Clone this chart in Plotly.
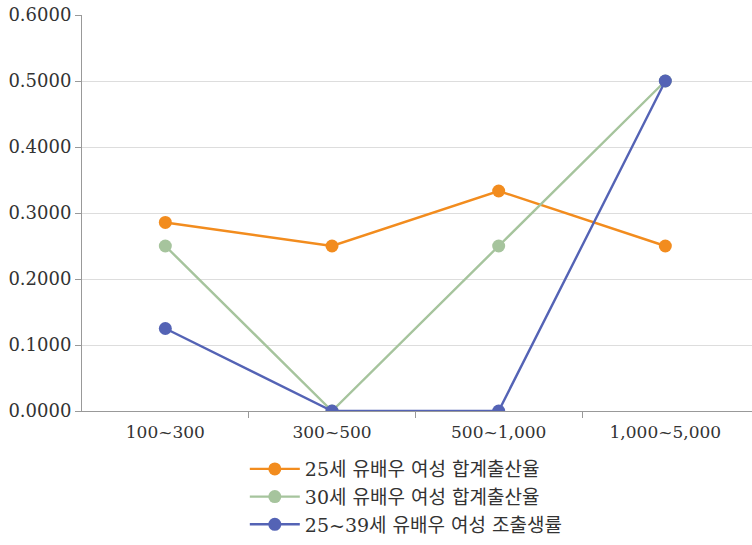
import plotly.graph_objects as go

categories = ["100~300", "300~500", "500~1,000", "1,000~5,000"]
tfr_25 = [0.2857, 0.25, 0.3333, 0.25]
tfr_30 = [0.25, 0.0, 0.25, 0.5]
cbr_25_39 = [0.125, 0.0, 0.0, 0.5]
series_names = [
    "25세 유배우 여성 합계출산율",
    "30세 유배우 여성 합계출산율",
    "25~39세 유배우 여성 조출생률",
]
y_ticks = [0.0, 0.1, 0.2, 0.3, 0.4, 0.5, 0.6]

colors = ["#F28C1E", "#A6C49D", "#5463B5"]
serif = "DejaVu Serif"
legend_font = "DejaVu Serif, Noto Sans CJK KR"

fig = go.Figure()
for name, vals, col in zip(series_names, [tfr_25, tfr_30, cbr_25_39], colors):
    fig.add_trace(go.Scatter(
        x=list(range(len(categories))), y=vals, name=name,
        mode="lines+markers",
        line=dict(color=col, width=2.4),
        marker=dict(color=col, size=13),
    ))

fig.update_layout(
    width=752, height=545,
    margin=dict(l=82, r=0, t=15, b=134),
    plot_bgcolor="white", paper_bgcolor="white",
    font=dict(family=serif, size=18, color="#333333"),
    showlegend=True,
    legend=dict(
        x=0.243, y=-0.336, xanchor="left", yanchor="bottom",
        font=dict(family=legend_font, size=19, color="#333333"),
        tracegroupgap=0, itemwidth=50,
        bgcolor="rgba(0,0,0,0)",
    ),
)
fig.update_xaxes(
    range=[-0.5, 3.52],
    tickmode="array", tickvals=list(range(len(categories))), ticktext=categories,
    showgrid=False, showline=True, linecolor="#999999", linewidth=1,
    ticks="", zeroline=False, ticklabelstandoff=6,
    tickfont=dict(family=serif, size=17, color="#333333"),
)
# category separators drawn as minor ticks
fig.update_xaxes(minor=dict(tickmode="array", tickvals=[0.5, 1.5, 2.5],
                            ticks="outside", ticklen=6, tickcolor="#999999", showgrid=False))
fig.update_yaxes(
    range=[0, 0.6],
    tickmode="array", tickvals=y_ticks, ticktext=[f"{v:.4f}" for v in y_ticks],
    showgrid=True, gridcolor="#DDDDDD", gridwidth=1,
    showline=True, linecolor="#999999", linewidth=1,
    ticks="outside", ticklen=6, tickcolor="#999999",
    zeroline=False,
    tickfont=dict(family=serif, size=18, color="#333333"),
)

fig.write_html("out.html")
